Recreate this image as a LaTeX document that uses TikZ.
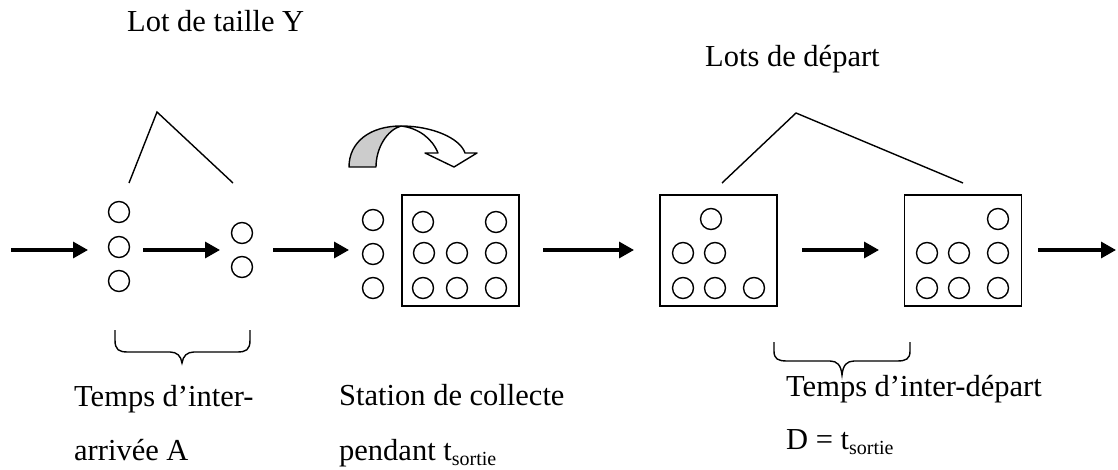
\documentclass[tikz,border=0pt]{standalone}
\usepackage{fontspec}
\setmainfont{Liberation Serif}
\usetikzlibrary{arrows.meta}
\newcommand{\sortie}{\raisebox{-0.18em}{\fontsize{20}{20}\selectfont sortie}}
\begin{document}
\begin{tikzpicture}[x=1pt,y=-1pt,
  txt/.style={anchor=base west,inner sep=0pt,font=\fontsize{30.5}{36}\selectfont},
  dot/.style={draw,circle,minimum size=21pt,inner sep=0pt,line width=1.4pt},
  box/.style={draw,rectangle,minimum width=117pt,minimum height=111pt,line width=1.6pt,inner sep=0pt},
  flow/.style={line width=3.2pt,-{Triangle[length=15pt,width=16pt]}},
  thinline/.style={line width=1.4pt},
  bracestyle/.style={line width=1.4pt},
  blockarrow/.style={line width=1.4pt,line join=round},
]
\useasboundingbox (0,0) rectangle (1118,470);

% top labels
\node[txt] (lotY) at (127,32) {Lot de taille Y};
\node[txt] (lotsD) at (705,67) {Lots de départ};

% column 1
\node[dot] (c11) at (119,212) {};
\node[dot] (c12) at (119,247) {};
\node[dot] (c13) at (119,281) {};
% column 2
\node[dot] (c21) at (242,233) {};
\node[dot] (c22) at (242,267) {};
% column 3
\node[dot] (c31) at (373,220) {};
\node[dot] (c32) at (373,254) {};
\node[dot] (c33) at (373,288) {};

% box 1 (station)
\node[box] (b1) at (460.5,250.5) {};
\node[dot] (b1a) at (423,222) {};
\node[dot] (b1b) at (496,222) {};
\node[dot] (b1c) at (424,253) {};
\node[dot] (b1d) at (457,253) {};
\node[dot] (b1e) at (496,253) {};
\node[dot] (b1f) at (423,288) {};
\node[dot] (b1g) at (457,288) {};
\node[dot] (b1h) at (496,288) {};

% box 2
\node[box] (b2) at (718.5,250.5) {};
\node[dot] (b2a) at (711,219) {};
\node[dot] (b2b) at (683,253) {};
\node[dot] (b2c) at (715,253) {};
\node[dot] (b2d) at (683,288) {};
\node[dot] (b2e) at (715,288) {};
\node[dot] (b2f) at (754,288) {};

% box 3
\node[box] (b3) at (963,250.5) {};
\node[dot] (b3a) at (998,219) {};
\node[dot] (b3b) at (927,253) {};
\node[dot] (b3c) at (959,253) {};
\node[dot] (b3d) at (998,253) {};
\node[dot] (b3e) at (927,288) {};
\node[dot] (b3f) at (959,288) {};
\node[dot] (b3g) at (998,288) {};

% flow arrows
\coordinate (a1s) at (11,250);   \coordinate (a1e) at (88,250);
\coordinate (a2s) at (143,250);  \coordinate (a2e) at (220,250);
\coordinate (a3s) at (273,250);  \coordinate (a3e) at (349,250);
\coordinate (a4s) at (543,250);  \coordinate (a4e) at (634,250);
\coordinate (a5s) at (802,250);  \coordinate (a5e) at (879,250);
\coordinate (a6s) at (1038,250); \coordinate (a6e) at (1116,250);
\draw[flow] (a1s) -- (a1e);
\draw[flow] (a2s) -- (a2e);
\draw[flow] (a3s) -- (a3e);
\draw[flow] (a4s) -- (a4e);
\draw[flow] (a5s) -- (a5e);
\draw[flow] (a6s) -- (a6e);

% grouping lines
\coordinate (t1a) at (157,112); \coordinate (t1l) at (129,183); \coordinate (t1r) at (233,183);
\draw[thinline] (t1l) -- (t1a) -- (t1r);
\coordinate (t2a) at (796,113); \coordinate (t2l) at (722,183); \coordinate (t2r) at (963,183);
\draw[thinline] (t2l) -- (t2a) -- (t2r);

% curved block arrow
\draw[blockarrow,fill=black!20] (349,167) .. controls (349,142) and (370,126) .. (401,126)
   .. controls (387,130) and (376,148) .. (376,167) -- cycle;
\draw[blockarrow,fill=white] (401,126) .. controls (432,126) and (460,138) .. (465,153)
   -- (477,153) -- (454,167) -- (425,153) -- (438,153)
   .. controls (432,138) and (418,128) .. (401,126) -- cycle;

% braces
\draw[bracestyle] (115,330) -- (115,340) .. controls (115,350) and (119,352) .. (128,352)
   -- (170,352) .. controls (177,352) and (181,356) .. (182,363)
   .. controls (183,356) and (187,352) .. (194,352)
   -- (237,352) .. controls (246,352) and (250,350) .. (250,340) -- (250,330);
\draw[bracestyle] (774,342) -- (774,351) .. controls (774,359) and (778,361) .. (787,361)
   -- (830,361) .. controls (837,361) and (841,365) .. (842,375)
   .. controls (843,365) and (847,361) .. (854,361)
   -- (897,361) .. controls (906,361) and (910,359) .. (910,351) -- (910,342);

% bottom labels
\node[txt] (ia1) at (74,406) {Temps d’inter-};
\node[txt] (ia2) at (74,460) {arrivée A};
\node[txt] (st1) at (339,405) {Station de collecte};
\node[txt] (st2) at (339,460) {pendant t\sortie};
\node[txt] (id1) at (786,396) {Temps d’inter-départ};
\node[txt] (id2) at (786,449) {D = t\sortie};
\end{tikzpicture}
\end{document}
